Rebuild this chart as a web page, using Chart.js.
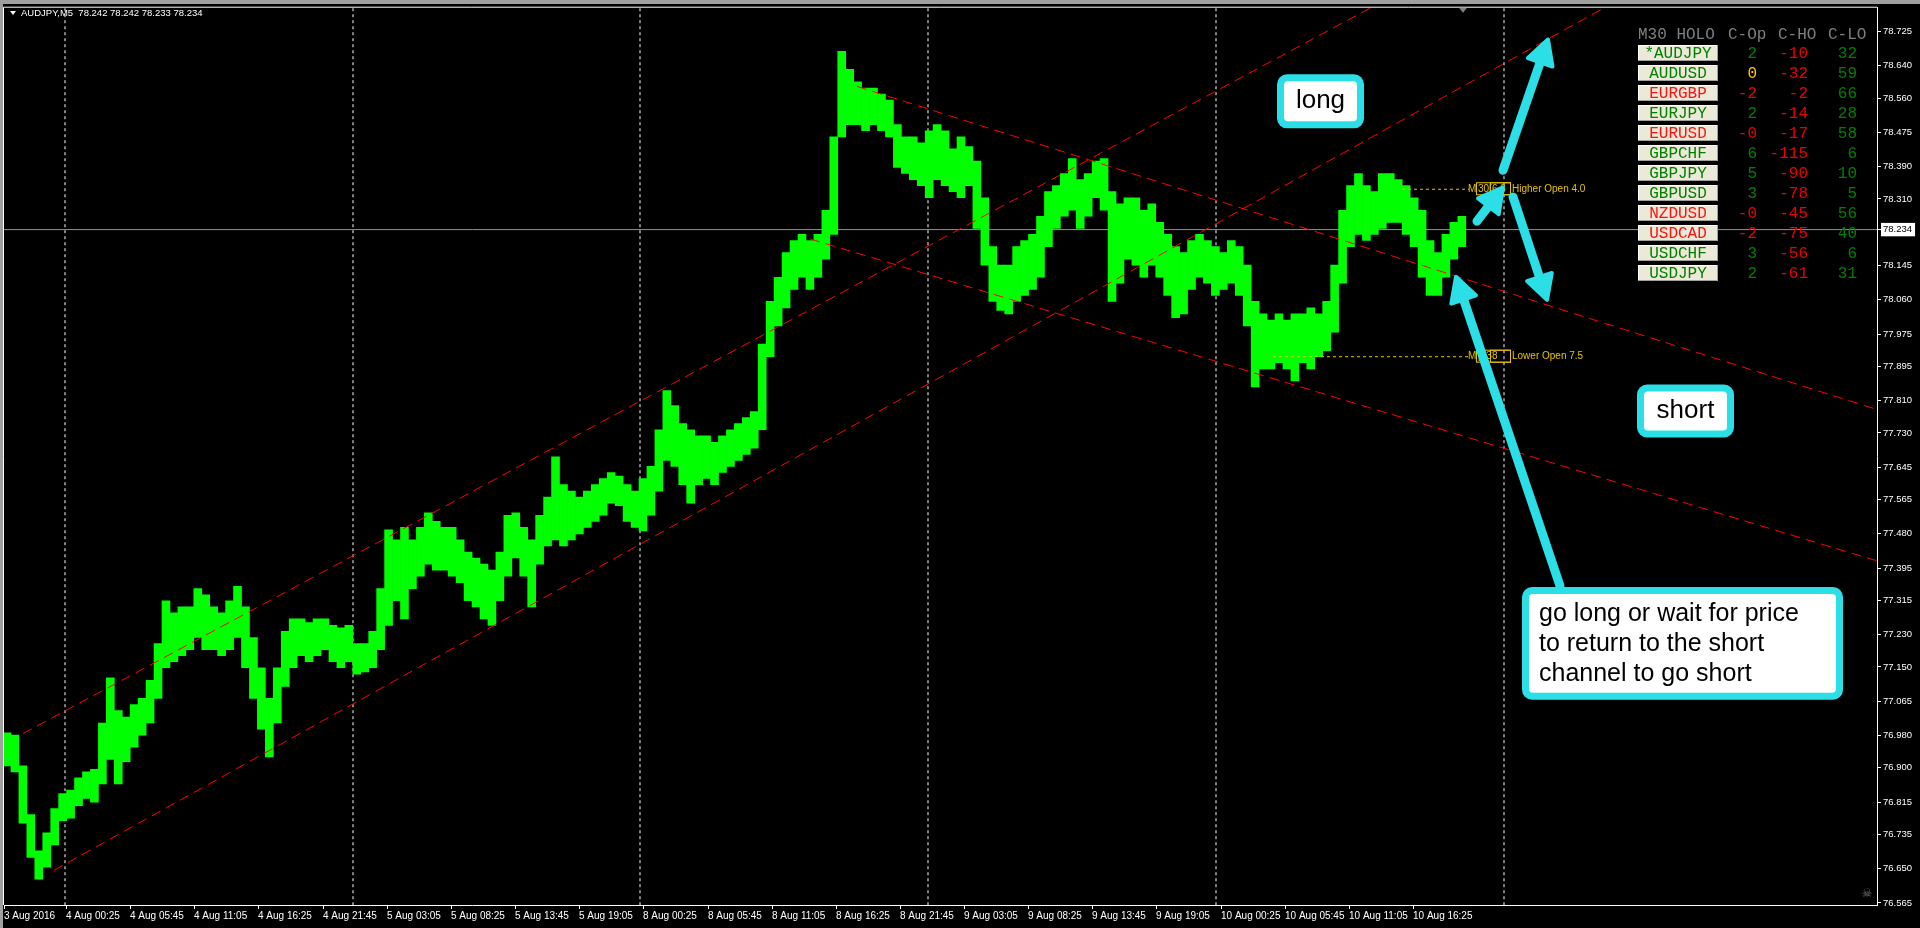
<!DOCTYPE html>
<html>
<head>
<meta charset="utf-8">
<title>AUDJPY,M5</title>
<script src="https://cdn.jsdelivr.net/npm/chart.js@4.4.1/dist/chart.umd.min.js"></script>
<style>
  html, body { margin: 0; padding: 0; background: #000; overflow: hidden; }
  #chart-container { width: 1920px; height: 928px; }
</style>
</head>
<body>
<div id="chart-container"><canvas id="price-canvas" width="1920" height="928"></canvas></div>
<script>
'use strict';

// price range of each group of 8 M5 bars
var slotHighs = [
  76.987, 76.981, 76.905, 76.784, 76.694, 76.739, 76.799, 76.836, 76.845, 76.875,
  76.890, 76.896, 77.011, 77.123, 77.042, 77.026, 77.057, 77.072, 77.117, 77.208,
  77.314, 77.284, 77.299, 77.299, 77.344, 77.329, 77.299, 77.284, 77.314, 77.350,
  77.299, 77.223, 77.148, 77.072, 77.148, 77.238, 77.269, 77.269, 77.260, 77.269,
  77.269, 77.253, 77.247, 77.253, 77.208, 77.208, 77.238, 77.344, 77.490, 77.465,
  77.496, 77.465, 77.496, 77.532, 77.511, 77.496, 77.496, 77.465, 77.435, 77.420,
  77.405, 77.390, 77.435, 77.526, 77.532, 77.496, 77.465, 77.526, 77.571, 77.671,
  77.602, 77.586, 77.571, 77.586, 77.602, 77.617, 77.632, 77.623, 77.602, 77.586,
  77.617, 77.647, 77.738, 77.835, 77.798, 77.753, 77.738, 77.723, 77.723, 77.707,
  77.723, 77.738, 77.753, 77.768, 77.783, 77.950, 78.056, 78.116, 78.177, 78.207,
  78.222, 78.207, 78.222, 78.282, 78.464, 78.676, 78.631, 78.600, 78.585, 78.585,
  78.570, 78.555, 78.494, 78.464, 78.464, 78.449, 78.479, 78.494, 78.479, 78.434,
  78.464, 78.440, 78.404, 78.313, 78.192, 78.146, 78.146, 78.192, 78.207, 78.222,
  78.267, 78.328, 78.343, 78.373, 78.410, 78.358, 78.373, 78.404, 78.410, 78.328,
  78.298, 78.313, 78.313, 78.282, 78.298, 78.252, 78.222, 78.192, 78.177, 78.207,
  78.222, 78.207, 78.192, 78.177, 78.207, 78.192, 78.146, 78.056, 78.025, 78.010,
  78.025, 78.010, 78.025, 78.025, 78.040, 78.025, 78.056, 78.146, 78.282, 78.343,
  78.373, 78.343, 78.328, 78.373, 78.373, 78.358, 78.343, 78.313, 78.282, 78.207,
  78.177, 78.222, 78.252, 78.267
];
var slotLows = [
  76.905, 76.890, 76.763, 76.678, 76.624, 76.654, 76.709, 76.769, 76.775, 76.806,
  76.824, 76.815, 76.860, 76.921, 76.860, 76.915, 76.951, 76.981, 77.011, 77.072,
  77.148, 77.163, 77.178, 77.193, 77.223, 77.193, 77.193, 77.178, 77.193, 77.223,
  77.148, 77.072, 76.996, 76.927, 77.011, 77.102, 77.148, 77.178, 77.163, 77.178,
  77.193, 77.163, 77.148, 77.163, 77.132, 77.138, 77.148, 77.193, 77.253, 77.314,
  77.269, 77.344, 77.375, 77.405, 77.390, 77.390, 77.375, 77.359, 77.314, 77.299,
  77.269, 77.253, 77.314, 77.375, 77.420, 77.375, 77.299, 77.405, 77.450, 77.465,
  77.450, 77.465, 77.480, 77.496, 77.511, 77.526, 77.556, 77.550, 77.511, 77.496,
  77.487, 77.526, 77.586, 77.662, 77.647, 77.602, 77.556, 77.602, 77.617, 77.602,
  77.632, 77.647, 77.662, 77.677, 77.692, 77.738, 77.919, 77.995, 78.040, 78.086,
  78.116, 78.086, 78.116, 78.161, 78.222, 78.464, 78.494, 78.494, 78.479, 78.494,
  78.479, 78.464, 78.388, 78.373, 78.358, 78.343, 78.313, 78.358, 78.343, 78.328,
  78.313, 78.343, 78.237, 78.146, 78.056, 78.034, 78.025, 78.056, 78.071, 78.086,
  78.116, 78.192, 78.237, 78.267, 78.282, 78.237, 78.267, 78.313, 78.282, 78.056,
  78.101, 78.161, 78.146, 78.116, 78.146, 78.116, 78.071, 78.016, 78.025, 78.086,
  78.116, 78.101, 78.071, 78.086, 78.101, 78.071, 77.995, 77.844, 77.889, 77.889,
  77.904, 77.889, 77.859, 77.904, 77.889, 77.919, 77.934, 77.980, 78.101, 78.192,
  78.222, 78.207, 78.222, 78.237, 78.252, 78.252, 78.222, 78.192, 78.116, 78.071,
  78.071, 78.116, 78.161, 78.192
];
var SLOT_BARS = 7.95; // bars per slot

var priceTicks = ['78.725', '78.640', '78.560', '78.475', '78.390', '78.310', '78.145', '78.060',
  '77.975', '77.895', '77.810', '77.730', '77.645', '77.565', '77.480', '77.395', '77.315',
  '77.230', '77.150', '77.065', '76.980', '76.900', '76.815', '76.735', '76.650', '76.565'];
var lastPrice = 78.234;

var timeLabels = ['3 Aug 2016', '4 Aug 00:25', '4 Aug 05:45', '4 Aug 11:05', '4 Aug 16:25',
  '4 Aug 21:45', '5 Aug 03:05', '5 Aug 08:25', '5 Aug 13:45', '5 Aug 19:05', '8 Aug 00:25',
  '8 Aug 05:45', '8 Aug 11:05', '8 Aug 16:25', '8 Aug 21:45', '9 Aug 03:05', '9 Aug 08:25',
  '9 Aug 13:45', '9 Aug 19:05', '10 Aug 00:25', '10 Aug 05:45', '10 Aug 11:05', '10 Aug 16:25'];
var timeLabelBars = [1, 63, 127, 191, 255, 320, 384, 448, 512, 576, 640, 705, 769, 833, 897,
  961, 1025, 1089, 1153, 1218, 1282, 1346, 1410];
var daySeparatorBars = [62, 350, 637, 925, 1213, 1501];

// trend lines (bar, price)
var upChannelTop = [{x: 20, y: 76.985}, {x: 1400, y: 78.827}];
var upChannelBottom = [{x: 51, y: 76.646}, {x: 1874, y: 79.160}];
var downChannelTop = [{x: 854, y: 78.589}, {x: 1874, y: 77.788}];
var downChannelBottom = [{x: 807, y: 78.211}, {x: 1874, y: 77.413}];

var higherOpen = 78.334;
var lowerOpen = 77.919;
var higherOpenFrom = 1399;
var lowerOpenFrom = 1270;
var openLineTo = 1466;

// M30 HOLO panel
var tablePairs = ['*AUDJPY', 'AUDUSD', 'EURGBP', 'EURJPY', 'EURUSD', 'GBPCHF', 'GBPJPY',
  'GBPUSD', 'NZDUSD', 'USDCAD', 'USDCHF', 'USDJPY'];
var tableCOp = ['2', '0', '-2', '2', '-0', '6', '5', '3', '-0', '-2', '3', '2'];
var tableCHO = ['-10', '-32', '-2', '-14', '-17', '-115', '-90', '-78', '-45', '-75', '-56', '-61'];
var tableCLO = ['32', '59', '66', '28', '58', '6', '10', '5', '56', '40', '6', '31'];

var CYAN = '#2cdfe7';
var GREEN = '#008000';
var RED = '#ee0000';
var GOLD = '#e6c300';

// callout boxes and arrows, placed in (bar, price)
var calloutBoxes = [
  {lines: ['long'], x1: 1274, x2: 1361, y1: 78.619, y2: 78.485, size: 26, center: true},
  {lines: ['short'], x1: 1634, x2: 1731, y1: 77.850, y2: 77.719, size: 26, center: true},
  {lines: ['go long or wait for price', 'to return to the short', 'channel to go short'],
    x1: 1519, x2: 1840, y1: 77.348, y2: 77.069, size: 25, center: false}
];
var calloutArrows = [
  {from: [1500, 78.381], to: [1545, 78.705]},
  {from: [1474, 78.255], to: [1500, 78.339]},
  {from: [1510, 78.315], to: [1544, 78.060]},
  {from: [1557, 77.351], to: [1453, 78.117]}
];

var priceBars = [];
for (var i = 0; i < slotHighs.length; i++) {
  priceBars.push({x: i * SLOT_BARS + SLOT_BARS / 2, y: [slotLows[i], slotHighs[i]]});
}

function lineSet(points, color, dash, order) {
  return {
    type: 'line', data: points, borderColor: color, borderWidth: 1, borderDash: dash,
    pointRadius: 0, fill: false, tension: 0, order: order
  };
}

var datasets = [];
datasets.push({
  type: 'bar', data: priceBars, backgroundColor: '#00ff00', borderWidth: 0,
  barPercentage: 1, categoryPercentage: 1, grouped: false, order: 5
});
daySeparatorBars.forEach(function(b) {
  datasets.push(lineSet([{x: b, y: 76.5}, {x: b, y: 78.9}], '#ffffff', [3, 3], 8));
});
datasets.push(lineSet([{x: 1, y: lastPrice}, {x: 1874, y: lastPrice}], '#8c94a0', [], 7));
datasets.push(lineSet(upChannelTop, '#ff0000', [10, 6], 1));
datasets.push(lineSet(upChannelBottom, '#ff0000', [10, 6], 1));
datasets.push(lineSet(downChannelTop, '#ff0000', [10, 6], 1));
datasets.push(lineSet(downChannelBottom, '#ff0000', [10, 6], 1));
datasets.push(lineSet([{x: higherOpenFrom, y: higherOpen}, {x: openLineTo, y: higherOpen}], GOLD, [3, 3], 2));
datasets.push(lineSet([{x: lowerOpenFrom, y: lowerOpen}, {x: openLineTo, y: lowerOpen}], GOLD, [3, 3], 2));

function signColor(text) {
  if (text.charAt(0) === '-') return RED;
  if (text === '0') return '#ffc800';
  return GREEN;
}

function drawArrow(ctx, x1, y1, x2, y2) {
  var ang = Math.atan2(y2 - y1, x2 - x1);
  var headLen = 24;
  var headHalf = 13;
  ctx.strokeStyle = CYAN;
  ctx.fillStyle = CYAN;
  ctx.lineCap = 'round';
  ctx.lineJoin = 'round';
  ctx.lineWidth = 9;
  ctx.beginPath();
  ctx.moveTo(x1, y1);
  ctx.lineTo(x2 - Math.cos(ang) * headLen * 0.6, y2 - Math.sin(ang) * headLen * 0.6);
  ctx.stroke();
  var bx = x2 - Math.cos(ang) * headLen;
  var by = y2 - Math.sin(ang) * headLen;
  ctx.lineWidth = 4;
  ctx.beginPath();
  ctx.moveTo(x2, y2);
  ctx.lineTo(bx + Math.sin(ang) * headHalf, by - Math.cos(ang) * headHalf);
  ctx.lineTo(bx - Math.sin(ang) * headHalf, by + Math.cos(ang) * headHalf);
  ctx.closePath();
  ctx.fill();
  ctx.stroke();
}

function drawCallout(ctx, xs, ys, box) {
  var left = xs.getPixelForValue(box.x1);
  var right = xs.getPixelForValue(box.x2);
  var top = ys.getPixelForValue(box.y1);
  var bottom = ys.getPixelForValue(box.y2);
  ctx.fillStyle = CYAN;
  ctx.beginPath();
  ctx.roundRect(left, top, right - left, bottom - top, 10);
  ctx.fill();
  ctx.fillStyle = '#ffffff';
  ctx.beginPath();
  ctx.roundRect(left + 7, top + 7, right - left - 14, bottom - top - 14, 4);
  ctx.fill();
  ctx.fillStyle = '#000000';
  ctx.font = box.size + 'px "Liberation Sans", Arial, sans-serif';
  ctx.textBaseline = 'middle';
  if (box.center) {
    ctx.textAlign = 'center';
    ctx.fillText(box.lines[0], (left + right) / 2, (top + bottom) / 2);
  } else {
    ctx.textAlign = 'left';
    for (var k = 0; k < box.lines.length; k++) {
      ctx.fillText(box.lines[k], left + 17, top + 27 + k * 30);
    }
  }
}

function drawOpenTag(ctx, x, y, tag, text) {
  ctx.font = '10px "Liberation Sans", Arial, sans-serif';
  ctx.textBaseline = 'middle';
  ctx.textAlign = 'left';
  ctx.fillStyle = GOLD;
  ctx.fillText('M', x - 1, y);
  ctx.fillText(tag, x + 9, y);
  ctx.strokeStyle = GOLD;
  ctx.lineWidth = 1;
  ctx.strokeRect(x + 7.5, y - 6.5, 34, 12);
  ctx.strokeRect(x + 21.5, y - 6.5, 20, 12);
  ctx.fillText(text, x + 43, y);
}

function drawPanel(ctx) {
  var left = 1638;
  ctx.font = '16px "Liberation Mono", "Courier New", monospace';
  ctx.textBaseline = 'middle';
  ctx.textAlign = 'left';
  ctx.fillStyle = '#808080';
  ctx.fillText('M30 HOLO', left, 35);
  ctx.fillText('C-Op', 1728, 35);
  ctx.fillText('C-HO', 1778, 35);
  ctx.fillText('C-LO', 1828, 35);
  for (var r = 0; r < tablePairs.length; r++) {
    var top = 45 + r * 20;
    var mid = top + 8.5;
    ctx.fillStyle = '#ece9d8';
    ctx.fillRect(left, top, 80, 16);
    ctx.fillStyle = '#ffffff';
    ctx.fillRect(left, top, 80, 1);
    ctx.fillRect(left, top, 1, 16);
    ctx.fillStyle = '#a0a0a0';
    ctx.fillRect(left, top + 15, 80, 1);
    ctx.fillRect(left + 79, top, 1, 16);
    ctx.textAlign = 'center';
    ctx.fillStyle = tableCOp[r].charAt(0) === '-' ? '#ff1010' : GREEN;
    ctx.fillText(tablePairs[r], left + 40, mid);
    ctx.textAlign = 'right';
    ctx.fillStyle = signColor(tableCOp[r]);
    ctx.fillText(tableCOp[r], 1757, mid);
    ctx.fillStyle = signColor(tableCHO[r]);
    ctx.fillText(tableCHO[r], 1808, mid);
    ctx.fillStyle = signColor(tableCLO[r]);
    ctx.fillText(tableCLO[r], 1857, mid);
  }
}

var overlayPlugin = {
  id: 'mtOverlay',
  beforeDraw: function(chart) {
    var ctx = chart.ctx;
    ctx.save();
    ctx.fillStyle = '#000000';
    ctx.fillRect(0, 0, chart.width, chart.height);
    ctx.fillStyle = '#a0a0a0';
    ctx.fillRect(0, 0, chart.width, 4);
    ctx.fillRect(0, 0, 3, chart.height);
    ctx.restore();
  },
  afterDatasetsDraw: function(chart) {
    var ctx = chart.ctx;
    var xs = chart.scales.x;
    var ys = chart.scales.y;
    ctx.save();
    drawOpenTag(ctx, xs.getPixelForValue(openLineTo), ys.getPixelForValue(higherOpen), '30[6.3', 'Higher Open 4.0');
    drawOpenTag(ctx, xs.getPixelForValue(openLineTo), ys.getPixelForValue(lowerOpen), '[$38', 'Lower Open 7.5');
    drawPanel(ctx);
    calloutArrows.forEach(function(a) {
      drawArrow(ctx, xs.getPixelForValue(a.from[0]), ys.getPixelForValue(a.from[1]),
        xs.getPixelForValue(a.to[0]), ys.getPixelForValue(a.to[1]));
    });
    calloutBoxes.forEach(function(b) {
      drawCallout(ctx, xs, ys, b);
    });
    ctx.restore();
  },
  afterDraw: function(chart) {
    var ctx = chart.ctx;
    var area = chart.chartArea;
    ctx.save();
    // frame
    ctx.strokeStyle = '#ffffff';
    ctx.lineWidth = 1;
    ctx.beginPath();
    ctx.moveTo(area.left - 0.5, area.bottom);
    ctx.lineTo(area.left - 0.5, area.top - 0.5);
    ctx.lineTo(area.right, area.top - 0.5);
    ctx.stroke();
    // symbol header
    ctx.fillStyle = '#ffffff';
    ctx.beginPath();
    ctx.moveTo(10, 11);
    ctx.lineTo(16, 11);
    ctx.lineTo(13, 15);
    ctx.closePath();
    ctx.fill();
    ctx.font = '9.5px "Liberation Sans", Arial, sans-serif';
    ctx.textBaseline = 'middle';
    ctx.textAlign = 'left';
    ctx.fillText('AUDJPY,M5  78.242 78.242 78.233 78.234', 21, 13);
    // chart shift marker
    var sx = chart.scales.x.getPixelForValue(1460);
    ctx.fillStyle = '#808080';
    ctx.beginPath();
    ctx.moveTo(sx - 4, area.top);
    ctx.lineTo(sx + 4, area.top);
    ctx.lineTo(sx, area.top + 5);
    ctx.closePath();
    ctx.fill();
    ctx.font = '12px "DejaVu Sans", sans-serif';
    ctx.fillStyle = '#707070';
    ctx.textAlign = 'center';
    ctx.fillText('\u2620', area.right - 10, area.bottom - 11);
    ctx.restore();
  }
};

var chart = new Chart(document.getElementById('price-canvas').getContext('2d'), {
  type: 'bar',
  data: {datasets: datasets},
  options: {
    responsive: false,
    animation: false,
    devicePixelRatio: 1,
    layout: {padding: {left: 4, top: 5, right: 0, bottom: 0}},
    plugins: {legend: {display: false}, tooltip: {enabled: false}, title: {display: false}},
    scales: {
      x: {
        type: 'linear', position: 'bottom', min: 1, max: 1874, offset: false,
        afterBuildTicks: function(scale) {
          scale.ticks = timeLabelBars.map(function(b) { return {value: b}; });
        },
        afterFit: function(scale) { scale.height = 23; },
        ticks: {
          align: 'start', autoSkip: false, maxRotation: 0, color: '#ffffff', padding: 1,
          font: {family: '"Liberation Sans", Arial, sans-serif', size: 10},
          callback: function(value, index) { return timeLabels[index]; }
        },
        grid: {drawOnChartArea: false, color: '#ffffff', tickLength: 4, offset: false},
        border: {color: '#ffffff'}
      },
      y: {
        type: 'linear', position: 'right', min: 76.560, max: 78.784,
        afterBuildTicks: function(scale) {
          var t = priceTicks.map(function(s) { return {value: parseFloat(s)}; });
          t.push({value: lastPrice});
          t.sort(function(a, b) { return a.value - b.value; });
          scale.ticks = t;
        },
        afterFit: function(scale) { scale.width = 43; },
        ticks: {
          autoSkip: false, padding: 2,
          font: {family: '"Liberation Sans", Arial, sans-serif', size: 9.5},
          color: function(ctx) { return ctx.tick && ctx.tick.value === lastPrice ? '#000000' : '#ffffff'; },
          showLabelBackdrop: function(ctx) { return !!(ctx.tick && ctx.tick.value === lastPrice); },
          backdropColor: '#ffffff',
          backdropPadding: {top: 1, bottom: 1, left: 2, right: 3},
          callback: function(value) { return value.toFixed(3); }
        },
        grid: {drawOnChartArea: false, color: '#ffffff', tickLength: 4},
        border: {color: '#ffffff'}
      }
    }
  },
  plugins: [overlayPlugin]
});
</script>
</body>
</html>
